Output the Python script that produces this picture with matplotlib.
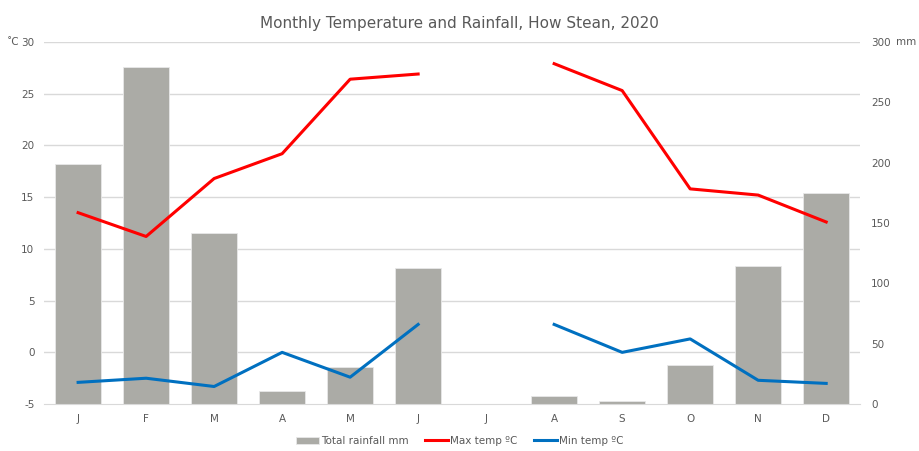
import numpy as np
import matplotlib
matplotlib.use("Agg")
import matplotlib.pyplot as plt

months = ["J", "F", "M", "A", "M", "J", "J", "A", "S", "O", "N", "D"]
rainfall_mm = [199, 279, 142, 11, 31, 113, np.nan, 7, 2.5, 32, 114, 175]
max_temp = [13.5, 11.2, 16.8, 19.2, 26.4, 26.9, np.nan, 27.9, 25.3, 15.8, 15.2, 12.6]
min_temp = [-2.9, -2.5, -3.3, 0.0, -2.4, 2.7, np.nan, 2.7, 0.0, 1.3, -2.7, -3.0]

TEXT = "#595959"
GRID = "#d9d9d9"

plt.rcParams["font.family"] = ["DejaVu Sans"]
plt.rcParams["axes.unicode_minus"] = False

fig = plt.figure(figsize=(9.19, 4.51), dpi=100)
ax = fig.add_axes([0.048, 0.104, 0.888, 0.803])
ax2 = ax.twinx()

x = np.arange(len(months))

# temperature axis on top so lines sit over the bars
ax.set_zorder(2)
ax.patch.set_visible(False)

# gridlines follow the temperature ticks, drawn on the rainfall axis behind bars
for v in range(0, 31, 5):
    ax2.plot([-0.5, 11.5], [(v + 5) * 300 / 35] * 2, color=GRID, lw=1, zorder=1)

bars = ax2.bar(x, rainfall_mm, width=0.67, color="#ababa6",
               edgecolor="#e8e8e8", linewidth=0.6, label="Total rainfall mm", zorder=2)
ax2.set_ylim(0, 300)
ax2.set_yticks(range(0, 301, 50))
ax2.set_xlim(-0.5, 11.5)

l1, = ax.plot(x, max_temp, color="#ff0000", lw=2.2, label="Max temp ºC")
l2, = ax.plot(x, min_temp, color="#0070c0", lw=2.2, label="Min temp ºC")
ax.set_ylim(-5, 30)
ax.set_yticks(range(-5, 31, 5))
ax.set_xlim(-0.5, 11.5)
ax.set_xticks(x)
ax.set_xticklabels(months)

for a in (ax, ax2):
    for s in ("top", "left", "right"):
        a.spines[s].set_visible(False)
    a.tick_params(length=0, colors=TEXT, labelsize=7.5)
ax.spines["bottom"].set_color(GRID)
ax2.spines["bottom"].set_visible(False)
ax.tick_params(axis="y", pad=7)
ax2.tick_params(axis="y", pad=8)
ax.tick_params(axis="x", pad=7)

fig.text(0.007, 0.907, "˚C", color=TEXT, fontsize=7.5, va="center")
fig.text(0.975, 0.907, "mm", color=TEXT, fontsize=7.5, va="center")

fig.suptitle("Monthly Temperature and Rainfall, How Stean, 2020",
             color=TEXT, fontsize=11, y=0.965)

fig.legend([bars, l1, l2], ["Total rainfall mm", "Max temp ºC", "Min temp ºC"],
           loc="center", bbox_to_anchor=(0.5, 0.022), ncol=3, frameon=False,
           fontsize=7.5, labelcolor=TEXT, handlelength=2.2, handletextpad=0.2,
           columnspacing=1.6)

fig.savefig("out.png", dpi=100)
